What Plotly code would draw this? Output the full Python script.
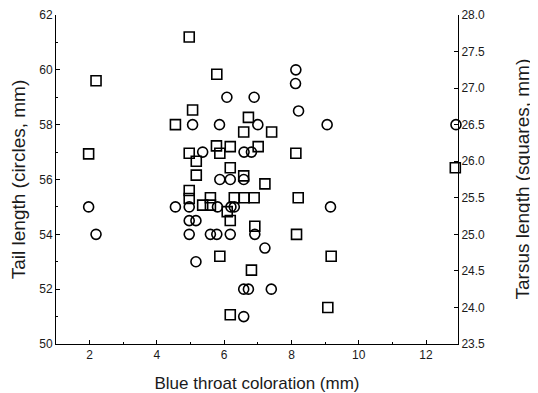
import plotly.graph_objects as go

# Circles: tail length (left axis)
circle_x = [1.97, 2.19, 4.55, 4.96, 4.96, 5.16, 4.96, 5.59, 5.78, 6.18, 6.91, 5.80, 6.20, 6.30,
            5.16, 7.21, 6.58, 6.72, 7.40, 6.58, 5.87, 6.18, 6.58, 5.36, 6.59, 6.81, 5.06, 5.86,
            7.00, 6.08, 6.89, 8.13, 8.12, 8.21, 9.06, 12.89, 9.16]
circle_tail = [55.0, 54.0, 55.0, 55.0, 54.5, 54.5, 54.0, 54.0, 54.0, 54.0, 54.0, 55.0, 55.0, 55.0,
               53.0, 53.5, 52.0, 52.0, 52.0, 51.0, 56.0, 56.0, 56.0, 57.0, 57.0, 57.0, 58.0, 58.0,
               58.0, 59.0, 59.0, 60.0, 59.5, 58.5, 58.0, 58.0, 55.0]

# Squares: tarsus length (right axis)
square_x = [4.96, 5.78, 2.19, 5.06, 4.55, 6.72, 6.58, 7.41, 1.97, 4.96, 5.87, 5.77, 6.18, 7.01,
            8.13, 5.17, 6.18, 5.17, 6.58, 7.21, 12.87, 4.96, 4.96, 5.36, 5.59, 5.59, 6.30, 6.59,
            6.89, 8.20, 6.09, 6.18, 6.91, 8.15, 5.87, 6.81, 9.18, 9.08, 6.18]
square_tarsus = [27.70, 27.19, 27.10, 26.70, 26.50, 26.60, 26.40, 26.40, 26.10, 26.11, 26.11, 26.21,
                 26.20, 26.20, 26.11, 26.00, 25.91, 25.81, 25.80, 25.69, 25.91, 25.60, 25.49, 25.40,
                 25.50, 25.40, 25.50, 25.50, 25.50, 25.50, 25.31, 25.19, 25.11, 25.00, 24.70, 24.51,
                 24.70, 24.00, 23.90]

x_ticks = [2, 4, 6, 8, 10, 12]
left_ticks = [50, 52, 54, 56, 58, 60, 62]
right_ticks = [23.5, 24.0, 24.5, 25.0, 25.5, 26.0, 26.5, 27.0, 27.5, 28.0]

FONT = "Liberation Sans, Arial, sans-serif"
TXT = "#1a1a1a"

fig = go.Figure()
fig.add_trace(go.Scatter(
    x=circle_x, y=circle_tail, mode="markers", name="Tail", cliponaxis=False,
    marker=dict(symbol="circle-open", size=10, color="black", line=dict(width=1.6, color="black")),
    yaxis="y"))
fig.add_trace(go.Scatter(
    x=square_x, y=square_tarsus, mode="markers", name="Tarsus", cliponaxis=False,
    marker=dict(symbol="square-open", size=10, color="black", line=dict(width=1.6, color="black")),
    yaxis="y2"))

axis_common = dict(showgrid=False, zeroline=False, showline=True, linecolor="black", linewidth=1,
                   ticks="inside", ticklen=4, tickcolor="black", automargin=False,
                   tickfont=dict(family=FONT, size=12, color=TXT))

# the page body adds an 8px offset, so the figure is sized 530x385
fig.update_layout(
    width=530, height=385,
    margin=dict(l=48, r=80, t=7, b=49),
    paper_bgcolor="white", plot_bgcolor="white",
    showlegend=False,
    font=dict(family=FONT, color=TXT),
    xaxis=dict(range=[1, 12.95], tickvals=x_ticks, ticktext=[str(v) for v in x_ticks],
               title=dict(text="Blue throat coloration (mm)", font=dict(family=FONT, size=17, color=TXT)),
               minor=dict(dtick=1, tick0=1, ticks="inside", ticklen=2, tickcolor="black"),
               **axis_common),
    yaxis=dict(range=[50, 62], tickvals=left_ticks, ticktext=[str(v) for v in left_ticks],
               title=dict(text="Tail length (circles, mm)", font=dict(family=FONT, size=19, color=TXT)),
               minor=dict(dtick=1, tick0=50, ticks="inside", ticklen=2, tickcolor="black"),
               **axis_common),
    yaxis2=dict(range=[23.5, 28], overlaying="y", side="right", tickvals=right_ticks,
                ticktext=[f"{v:.1f}" for v in right_ticks],
                **axis_common),
    annotations=[dict(text="Tarsus length (squares, mm)", xref="paper", yref="paper",
                      x=1, y=0.5, xanchor="center", yanchor="middle", xshift=64,
                      textangle=-90, showarrow=False,
                      font=dict(family=FONT, size=19, color=TXT))],
)

fig.write_html("out.html")
